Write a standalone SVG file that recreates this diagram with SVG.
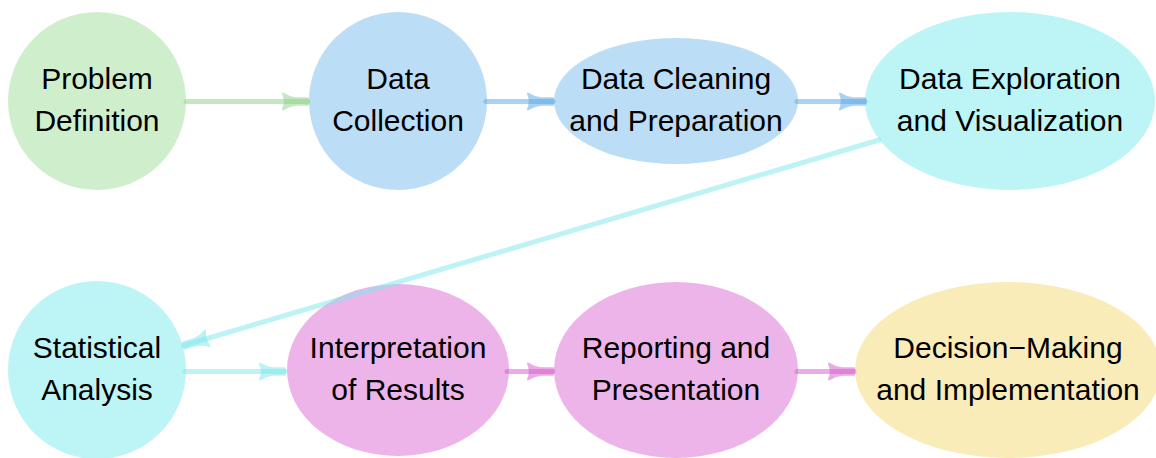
<svg xmlns="http://www.w3.org/2000/svg" width="1156" height="458" viewBox="0 0 1156 458">
<style>
text{font-family:"Liberation Sans",Arial,sans-serif;font-size:30px;fill:#000;text-anchor:middle}
.e{fill:none;stroke-width:5;stroke-linecap:round;stroke-opacity:0.5}
.g{stroke:#8cd287}.b{stroke:#55a7e5}.c{stroke:#7de7eb}.p{stroke:#d55bcd}
.ah{stroke-width:2;stroke-linejoin:round;opacity:0.5}
</style>
<defs>
<marker id="mg" markerUnits="userSpaceOnUse" orient="auto" refX="0" refY="0" markerWidth="40" markerHeight="40" overflow="visible"><path class="ah" fill="#8cd287" stroke="#8cd287" d="M0,-3.3 L-12,-3.3 Q-19,-4 -25,-8 Q-21.5,0 -25,8 Q-19,4 -12,3.3 L0,3.3 Z"/></marker>
<marker id="mb" markerUnits="userSpaceOnUse" orient="auto" refX="0" refY="0" markerWidth="40" markerHeight="40" overflow="visible"><path class="ah" fill="#55a7e5" stroke="#55a7e5" d="M0,-3.3 L-12,-3.3 Q-19,-4 -25,-8 Q-21.5,0 -25,8 Q-19,4 -12,3.3 L0,3.3 Z"/></marker>
<marker id="mc" markerUnits="userSpaceOnUse" orient="auto" refX="0" refY="0" markerWidth="40" markerHeight="40" overflow="visible"><path class="ah" fill="#7de7eb" stroke="#7de7eb" d="M0,-3.3 L-12,-3.3 Q-19,-4 -25,-8 Q-21.5,0 -25,8 Q-19,4 -12,3.3 L0,3.3 Z"/></marker>
<marker id="mp" markerUnits="userSpaceOnUse" orient="auto" refX="0" refY="0" markerWidth="40" markerHeight="40" overflow="visible"><path class="ah" fill="#d55bcd" stroke="#d55bcd" d="M0,-3.3 L-12,-3.3 Q-19,-4 -25,-8 Q-21.5,0 -25,8 Q-19,4 -12,3.3 L0,3.3 Z"/></marker>
</defs>
<g id="n1"><circle cx="97" cy="101" r="89" fill="#cfeecc"/><text x="97" y="89">Problem</text><text x="97" y="131">Definition</text></g>
<g id="n2"><circle cx="398" cy="101" r="89" fill="#bbddf5"/><text x="398" y="89">Data</text><text x="398" y="131">Collection</text></g>
<g id="n3"><ellipse cx="676" cy="101" rx="122" ry="63" fill="#bbddf5"/><text x="676" y="89">Data Cleaning</text><text x="676" y="131">and Preparation</text></g>
<g id="n4"><ellipse cx="1010" cy="101" rx="145" ry="89" fill="#bdf4f5"/><text x="1010" y="89">Data Exploration</text><text x="1010" y="131">and Visualization</text></g>
<g id="n5"><circle cx="97" cy="370" r="89" fill="#bdf4f5"/><text x="97" y="358">Statistical</text><text x="97" y="400">Analysis</text></g>
<g id="n6"><ellipse cx="398" cy="370" rx="111" ry="86" fill="#edb4e9"/><text x="398" y="358">Interpretation</text><text x="398" y="400">of Results</text></g>
<g id="n7"><ellipse cx="676" cy="370" rx="122" ry="88" fill="#edb4e9"/><text x="676" y="358">Reporting and</text><text x="676" y="400">Presentation</text></g>
<g id="n8"><ellipse cx="1008" cy="370" rx="153" ry="88" fill="#faecb8"/><text x="1008" y="358">Decision−Making</text><text x="1008" y="400">and Implementation</text></g>
<g id="connectors">
<path class="e g" d="M186,101.5 L308,101.5" marker-end="url(#mg)"/>
<path class="e b" d="M486,101.5 L553,101.5" marker-end="url(#mb)"/>
<path class="e b" d="M797,101.5 L865,101.5" marker-end="url(#mb)"/>
<path class="e c" d="M879,140 L183.5,345.5" marker-end="url(#mc)"/>
<path class="e c" d="M185,371.5 L285,371.5" marker-end="url(#mc)"/>
<path class="e p" d="M507,371.5 L553,371.5" marker-end="url(#mp)"/>
<path class="e p" d="M797,371.5 L854,371.5" marker-end="url(#mp)"/>
</g>
</svg>
